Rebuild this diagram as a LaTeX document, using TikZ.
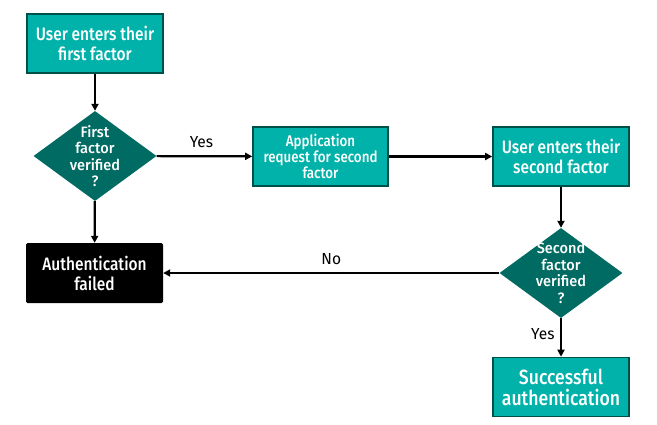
\documentclass[tikz,border=0pt]{standalone}
\usepackage{fontspec}
\setmainfont{Fira Sans}[FakeStretch=0.86,BoldFont={* Medium}]
\newfontfamily\widefont{Fira Sans}[FakeStretch=0.97,BoldFont={* Medium}]
\usetikzlibrary{shapes.geometric,arrows.meta}
\definecolor{tealbox}{RGB}{0,178,169}
\definecolor{tealedge}{RGB}{0,80,74}
\definecolor{tealdia}{RGB}{0,107,99}
\begin{document}
\begin{tikzpicture}[x=1pt,y=-1pt,
  procbox/.style={draw=tealedge,line width=1.6pt,fill=tealbox,text=white,align=center,minimum width=136pt,minimum height=59pt,inner sep=2pt},
  decision/.style={diamond,draw=none,fill=tealdia,text=white,align=center,minimum width=123pt,minimum height=90pt,inner sep=-12pt,aspect=1.37,font=\widefont\bfseries\fontsize{15}{16.5}\selectfont},
  failbox/.style={fill=black,rounded corners=1.5pt,text=white,align=center,minimum width=137pt,minimum height=60pt,font=\bfseries\fontsize{18}{20}\selectfont},
  conn/.style={-{Triangle[length=7pt,width=7pt]},line width=2.2pt},
  lbl/.style={font=\widefont\fontsize{16}{18}\selectfont}]
\useasboundingbox (0,0) rectangle (657,424);
\node[procbox,font=\bfseries\fontsize{18}{20}\selectfont] (u1) at (95,43.5) {User enters their\\first factor};
\node[decision] (d1) at (95,156) {First\\factor\\verified\\?};
\node[procbox,minimum width=135pt,font=\bfseries\fontsize{15.5}{16}\selectfont] (app) at (320.5,156.5) {Application\\request for second\\factor};
\node[procbox,font=\bfseries\fontsize{18}{20}\selectfont] (u2) at (561,156.5) {User enters their\\second factor};
\node[decision] (d2) at (561,273) {Second\\factor\\verified\\?};
\node[failbox] (fail) at (94.5,273) {Authentication\\failed};
\node[procbox,font=\bfseries\fontsize{20.5}{21}\selectfont] (ok) at (561,387) {Successful\\authentication};
\draw[conn] (u1) -- (d1);
\draw[conn] (d1) -- (fail);
\draw[conn] (d1) -- node[lbl,above=4pt,pos=0.47]{Yes} (app);
\draw[conn] (app) -- (u2);
\draw[conn] (u2) -- (d2);
\draw[conn] (d2) -- node[lbl,above=4pt]{No} (fail);
\draw[conn] (d2) -- node[lbl,left=2pt,pos=0.4]{Yes} (ok);
\end{tikzpicture}
\end{document}
